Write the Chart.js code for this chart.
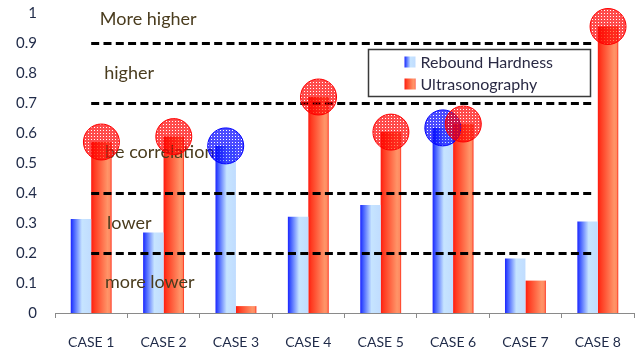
<!DOCTYPE html>
<html>
<head>
<meta charset="utf-8">
<script src="https://cdn.jsdelivr.net/npm/chart.js@4"></script>
<style>
  html, body { margin: 0; padding: 0; background: #fff; }
  #wrap { width: 641px; height: 351px; }
</style>
</head>
<body>
<div id="wrap"><canvas id="chart" width="641" height="351"></canvas></div>
<script>
// ----- data -----
const categories = ['CASE 1', 'CASE 2', 'CASE 3', 'CASE 4', 'CASE 5', 'CASE 6', 'CASE 7', 'CASE 8'];
const reboundHardness = [0.313, 0.268, 0.557, 0.321, 0.36, 0.617, 0.182, 0.305];
const ultrasonography = [0.57, 0.588, 0.023, 0.72, 0.603, 0.63, 0.108, 0.955];
// which bar tops get a circle marker
const markRebound = [false, false, true, false, false, true, false, false];
const markUltra = [true, true, false, true, true, true, false, true];
// dashed threshold levels and zone labels
const thresholds = [0.9, 0.7, 0.4, 0.2];
const zoneLabels = ['More higher', 'higher', 'be correlation', 'lower', 'more lower'];
const zoneLevels = [0.98, 0.8, 0.537, 0.3, 0.103];
const yTicks = [0, 0.1, 0.2, 0.3, 0.4, 0.5, 0.6, 0.7, 0.8, 0.9, 1];

const FONT = 'Lato, "Liberation Sans", sans-serif';
const BLUE_STOPS = [[0, '#1c24ff'], [0.12, '#3b55ff'], [0.55, '#c6e4ff'], [1, '#c0dcff']];
const RED_STOPS = [[0, '#ff1a10'], [0.15, '#ff3a20'], [0.8, '#ff9468'], [0.92, '#ff8a60'], [1, '#ff2a18']];
// horizontal start of each zone label, in category units
const zoneX = [0.12, 0.18, 0.19, 0.22, 0.19];

function barFill(stops, fallback) {
  return (c) => {
    const el = c.element;
    if (!el || !isFinite(el.x) || !el.width) return fallback;
    const g = c.chart.ctx.createLinearGradient(el.x - el.width / 2, 0, el.x + el.width / 2, 0);
    stops.forEach(s => g.addColorStop(s[0], s[1]));
    return g;
  };
}

function meshPattern(ctx, color) {
  const c = document.createElement('canvas');
  c.width = 3; c.height = 3;
  const p = c.getContext('2d');
  p.fillStyle = color;
  p.fillRect(0, 0, 3, 3);
  p.clearRect(1, 1, 1, 1);
  return ctx.createPattern(c, 'repeat');
}

// ----- overlays: dashed lines, zone text, circles, legend -----
const overlayPlugin = {
  id: 'overlay',
  afterDatasetsDraw(chart) {
    const { ctx, scales: { x, y } } = chart;
    ctx.save();

    // dashed threshold lines
    ctx.strokeStyle = '#000';
    ctx.lineWidth = 3;
    ctx.setLineDash([8, 4.3]);
    const x0 = x.getPixelForValue(0);
    const x1 = x.getPixelForValue(6.92);
    thresholds.forEach(v => {
      const py = Math.round(y.getPixelForValue(v)) + 0.5;
      ctx.beginPath();
      ctx.moveTo(x0, py);
      ctx.lineTo(x1, py);
      ctx.stroke();
    });
    ctx.setLineDash([]);

    // zone labels
    ctx.fillStyle = '#4a3c1e';
    ctx.font = '18px ' + FONT;
    ctx.textAlign = 'left';
    ctx.textBaseline = 'middle';
    zoneLabels.forEach((t, i) => ctx.fillText(t, x.getPixelForValue(zoneX[i]), y.getPixelForValue(zoneLevels[i])));

    // circle markers on bar tops
    const drawMarks = (dsIndex, marks, color) => {
      const meta = chart.getDatasetMeta(dsIndex);
      const pat = meshPattern(ctx, color);
      meta.data.forEach((bar, i) => {
        if (!marks[i]) return;
        ctx.beginPath();
        ctx.arc(bar.x, bar.y, 18, 0, Math.PI * 2);
        ctx.globalAlpha = 0.7;
        ctx.fillStyle = pat;
        ctx.fill();
        ctx.globalAlpha = 1;
        ctx.strokeStyle = color;
        ctx.lineWidth = 1;
        ctx.stroke();
      });
    };
    drawMarks(0, markRebound, '#0000ff');
    drawMarks(1, markUltra, '#ff0000');

    // legend box
    const lx = Math.round(x.getPixelForValue(3.82)) + 0.5;
    const ly = Math.round(y.getPixelForValue(0.88)) + 0.5;
    const lw = 222, lh = 47;
    ctx.fillStyle = '#fff';
    ctx.fillRect(lx, ly, lw, lh);
    ctx.strokeStyle = '#3a3a3a';
    ctx.lineWidth = 1.5;
    ctx.strokeRect(lx, ly, lw, lh);
    ctx.font = '16px ' + FONT;
    ctx.textBaseline = 'middle';
    chart.data.datasets.forEach((ds, i) => {
      const sy = ly + 12 + i * 22;
      const sx = lx + 36;
      const g = ctx.createLinearGradient(sx, 0, sx + 11, 0);
      (i === 0 ? BLUE_STOPS : RED_STOPS).forEach(s => g.addColorStop(s[0], s[1]));
      ctx.fillStyle = g;
      ctx.fillRect(sx, sy - 5, 11, 11);
      ctx.fillStyle = '#2a2a44';
      ctx.fillText(ds.label, sx + 16, sy + 1);
    });

    ctx.restore();
  }
};

const chart = new Chart(document.getElementById('chart'), {
  type: 'bar',
  data: {
    labels: categories,
    datasets: [
      {
        label: 'Rebound Hardness',
        data: reboundHardness,
        backgroundColor: barFill(BLUE_STOPS, '#7f9cff'),
        categoryPercentage: 0.565,
        barPercentage: 1
      },
      {
        label: 'Ultrasonography',
        data: ultrasonography,
        backgroundColor: barFill(RED_STOPS, '#ff5a3a'),
        categoryPercentage: 0.565,
        barPercentage: 1
      }
    ]
  },
  options: {
    responsive: false,
    animation: false,
    layout: { padding: { top: 13, right: 7, left: 0, bottom: 0 } },
    plugins: {
      legend: { display: false },
      tooltip: { enabled: false }
    },
    scales: {
      x: {
        grid: { display: true, drawOnChartArea: false, drawTicks: true, tickLength: 5, offset: true, color: '#8a8a8a' },
        border: { display: true, color: '#8a8a8a', width: 1 },
        ticks: { color: '#1f2a48', font: { family: FONT, size: 14 }, padding: 16, maxRotation: 0 },
        afterFit: (s) => { s.height = 38; }
      },
      y: {
        min: 0,
        max: 1,
        afterBuildTicks: (s) => { s.ticks = yTicks.map(v => ({ value: v })); },
        grid: { display: false, drawTicks: true, tickLength: 18 },
        border: { display: false },
        ticks: {
          color: '#1f2a48',
          font: { family: FONT, size: 15 },
          padding: 0,
          callback: (v) => String(Number(v.toFixed(1)))
        },
        afterFit: (s) => { s.width = 55; }
      }
    }
  },
  plugins: [overlayPlugin]
});
// second pass so the bar gradients can use the laid-out bar positions
chart.update();
</script>
</body>
</html>
